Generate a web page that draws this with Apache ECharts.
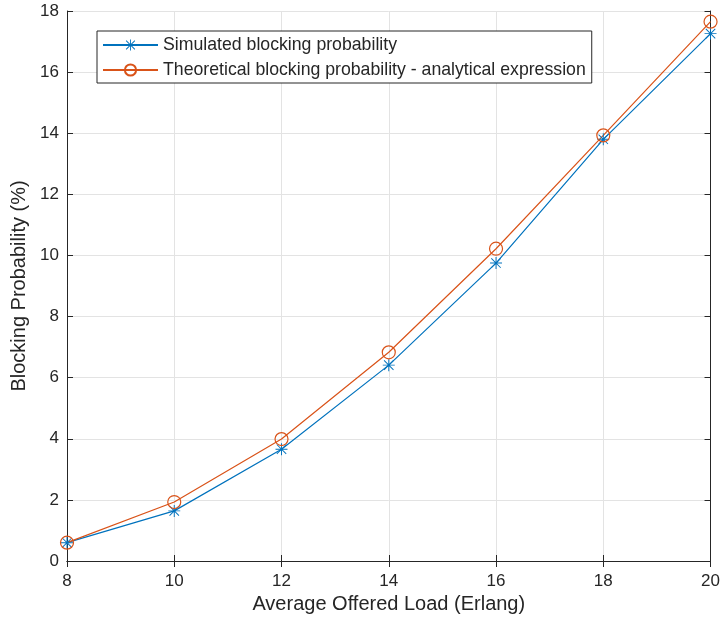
<!DOCTYPE html>
<html><head><meta charset="utf-8">
<script src="https://cdn.jsdelivr.net/npm/echarts@6/dist/echarts.min.js"></script>
<style>html,body{margin:0;padding:0;background:#fff}#c{width:723px;height:621px}</style>
</head><body><div id="c"></div>
<script>
const loads = [8, 10, 12, 14, 16, 18, 20];
const simulated = [0.6, 1.64, 3.66, 6.41, 9.75, 13.8, 17.26];
const theoretical = [0.6, 1.93, 3.99, 6.83, 10.22, 13.93, 17.65];
const xTicks = [8, 10, 12, 14, 16, 18, 20];
const yTicks = [0, 2, 4, 6, 8, 10, 12, 14, 16, 18];
const seriesNames = ['Simulated blocking probability', 'Theoretical blocking probability - analytical expression'];

const BLUE = '#0072BD', ORANGE = '#D95319', TXT = '#262626';
const star = 'path://M9.2,0 L10.8,0 L10.8,20 L9.2,20 Z M0,9.2 L20,9.2 L20,10.8 L0,10.8 Z M1.6,2.7 L2.7,1.6 L18.4,17.3 L17.3,18.4 Z M17.3,1.6 L18.4,2.7 L2.7,18.4 L1.6,17.3 Z';
const font = 'Liberation Sans, Arial, Helvetica, sans-serif';

const chart = echarts.init(document.getElementById('c'), null, {renderer: 'canvas'});
const baseX = {
  type: 'value', min: 8, max: 20, interval: 2,
  axisLine: {show: true, lineStyle: {color: '#262626', width: 1}},
  axisTick: {show: true, inside: true, length: 6, lineStyle: {color: '#262626'}},
};
const baseY = {
  type: 'value', min: 0, max: 18, interval: 2,
  axisLine: {show: true, lineStyle: {color: '#262626', width: 1}},
  axisTick: {show: true, inside: true, length: 6, lineStyle: {color: '#262626'}},
};
chart.setOption({
  animation: false,
  backgroundColor: '#fff',
  textStyle: {fontFamily: font},
  grid: {left: 67, right: 11, top: 11, bottom: 60, containLabel: false},
  xAxis: [
    Object.assign({}, baseX, {
      position: 'bottom',
      name: 'Average Offered Load (Erlang)', nameLocation: 'middle', nameGap: 32,
      nameTextStyle: {fontSize: 20, color: TXT, fontFamily: font},
      axisLabel: {fontSize: 17, color: TXT, margin: 12, fontFamily: font,
        formatter: v => xTicks.includes(v) ? String(v) : ''},
      splitLine: {show: true, lineStyle: {color: '#e3e3e3', width: 1}}
    }),
    Object.assign({}, baseX, {position: 'top', axisLabel: {show: false}, splitLine: {show: false}})
  ],
  yAxis: [
    Object.assign({}, baseY, {
      position: 'left',
      name: 'Blocking Probability (%)', nameLocation: 'middle', nameGap: 35, nameRotate: 90,
      nameTextStyle: {fontSize: 20, color: TXT, fontFamily: font},
      axisLabel: {fontSize: 17, color: TXT, margin: 8, fontFamily: font,
        formatter: v => yTicks.includes(v) ? String(v) : ''},
      splitLine: {show: true, lineStyle: {color: '#e3e3e3', width: 1}}
    }),
    Object.assign({}, baseY, {position: 'right', axisLabel: {show: false}, splitLine: {show: false}})
  ],
  legend: {
    left: 97, top: 31, orient: 'vertical',
    backgroundColor: '#fff', borderColor: '#262626', borderWidth: 1,
    padding: [5, 6, 4, 5], itemGap: 7, itemWidth: 55, itemHeight: 14,
    textStyle: {fontSize: 17.7, color: TXT, fontFamily: font},
    data: seriesNames
  },
  series: [
    {
      name: seriesNames[0], type: 'line',
      data: loads.map((x, i) => [x, simulated[i]]),
      symbol: star, symbolSize: 12,
      lineStyle: {color: BLUE, width: 1.2},
      itemStyle: {color: BLUE}
    },
    {
      name: seriesNames[1], type: 'line',
      data: loads.map((x, i) => [x, theoretical[i]]),
      symbol: 'circle', symbolSize: 13,
      lineStyle: {color: ORANGE, width: 1.2},
      itemStyle: {color: 'rgba(0,0,0,0)', borderColor: ORANGE, borderWidth: 1.2}
    }
  ]
});
</script></body></html>
